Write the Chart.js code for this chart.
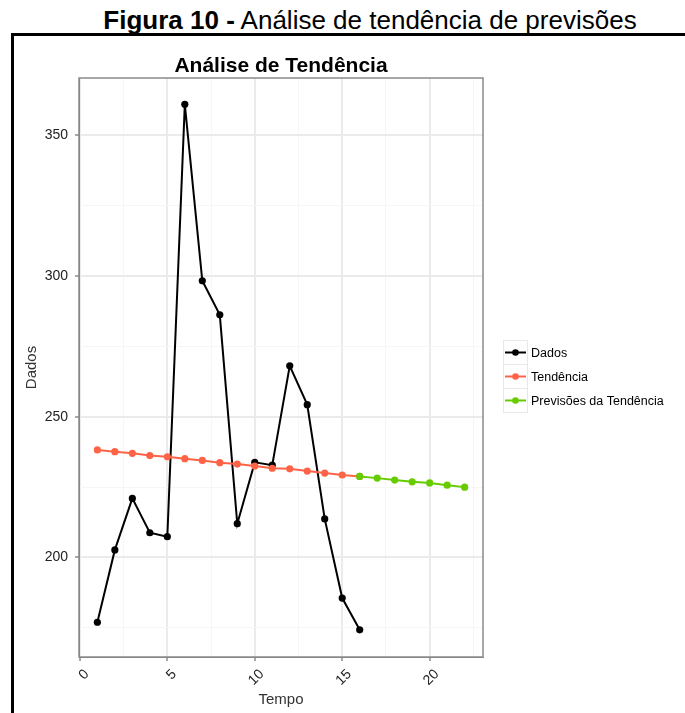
<!DOCTYPE html>
<html>
<head>
<meta charset="utf-8">
<script src="https://cdn.jsdelivr.net/npm/chart.js@4"></script>
<style>
  html, body { margin: 0; padding: 0; background: #fff; width: 685px; height: 713px; overflow: hidden; }
  #caption { position: absolute; left: 0; top: 5px; width: 740px; text-align: center;
    font-family: "Liberation Sans", Arial, sans-serif; font-size: 26px; color: #000; line-height: 30px; }
  #frame { position: absolute; left: 11px; top: 33px; width: 700px; height: 700px;
    border-top: 3px solid #000; border-left: 3px solid #000; }
  #c { position: absolute; left: 0; top: 0; }
</style>
</head>
<body>
<div id="caption"><b>Figura 10 -</b> Análise de tendência de previsões</div>
<div id="frame"></div>
<canvas id="c" width="685" height="713"></canvas>
<script>
// ---- data ----
const tempoDados = [1, 2, 3, 4, 5, 6, 7, 8, 9, 10, 11, 12, 13, 14, 15, 16];
const dados = [177.0, 202.7, 221.0, 208.8, 207.4, 361.0, 298.3, 286.2, 212.0, 233.8, 232.8, 268.1, 254.3, 213.7, 185.6, 174.3];
const tempoTendencia = [1, 2, 3, 4, 5, 6, 7, 8, 9, 10, 11, 12, 13, 14, 15, 16];
const tendencia = [238.2, 237.6, 237.0, 236.2, 235.8, 235.1, 234.5, 233.7, 233.2, 232.5, 231.7, 231.5, 230.7, 230.0, 229.3, 228.8];
const tempoPrevisoes = [16, 17, 18, 19, 20, 21, 22];
const previsoes = [228.8, 228.2, 227.5, 226.9, 226.5, 225.7, 225.0];
const xTicks = [0, 2.5, 5, 7.5, 10, 12.5, 15, 17.5, 20, 22.5];
const yTicks = [175, 200, 225, 250, 275, 300, 325, 350];
const seriesNames = ['Dados', 'Tendência', 'Previsões da Tendência'];
const seriesColors = ['#000000', '#ff6347', '#66cc00'];

const FONT = '"Liberation Sans", Arial, sans-serif';
const pts = (xs, ys) => xs.map((x, i) => ({ x: x, y: ys[i] }));

const xMin = -0.05, xMax = 23.05;
const yMin = 164.65, yMax = 370.35;

const isMajorX = v => Math.abs(v % 5) < 1e-9;
const isMajorY = v => Math.abs(v % 50) < 1e-9;

const panelBorder = {
  id: 'panelBorder',
  afterDatasetsDraw(chart) {
    const a = chart.chartArea, ctx = chart.ctx;
    ctx.save();
    ctx.strokeStyle = '#8a8a8a';
    ctx.lineWidth = 1.5;
    ctx.strokeRect(a.left, a.top, a.right - a.left, a.bottom - a.top);
    ctx.restore();
  }
};

const customLegend = {
  id: 'customLegend',
  afterDraw(chart) {
    const ctx = chart.ctx;
    const ds = chart.data.datasets;
    const x0 = 503, y0 = 340, w = 24, h = 24;
    ctx.save();
    ds.forEach((d, i) => {
      const top = y0 + i * h;
      ctx.strokeStyle = '#e8e8e8';
      ctx.lineWidth = 1;
      ctx.strokeRect(x0 + 0.5, top + 0.5, w, h);
      const cy = top + h / 2 + 0.5;
      ctx.strokeStyle = d.borderColor;
      ctx.lineWidth = 2;
      ctx.beginPath(); ctx.moveTo(x0 + 2, cy); ctx.lineTo(x0 + w - 1, cy); ctx.stroke();
      ctx.fillStyle = d.borderColor;
      ctx.beginPath(); ctx.arc(x0 + w / 2 + 0.5, cy, 3.3, 0, Math.PI * 2); ctx.fill();
      ctx.fillStyle = '#000';
      ctx.font = '12.5px ' + FONT;
      ctx.textBaseline = 'middle';
      ctx.textAlign = 'left';
      ctx.fillText(d.label, x0 + w + 4, cy + 1);
    });
    ctx.restore();
  }
};

function makeDataset(i, xs, ys, order) {
  return {
    label: seriesNames[i],
    data: pts(xs, ys),
    borderColor: seriesColors[i],
    backgroundColor: seriesColors[i],
    pointBackgroundColor: seriesColors[i],
    pointBorderColor: seriesColors[i],
    pointBorderWidth: 0,
    pointRadius: 3.6,
    borderWidth: 2,
    tension: 0,
    fill: false,
    order: order
  };
}

new Chart(document.getElementById('c'), {
  type: 'line',
  data: {
    datasets: [
      makeDataset(0, tempoDados, dados, 3),
      makeDataset(1, tempoTendencia, tendencia, 2),
      makeDataset(2, tempoPrevisoes, previsoes, 1)
    ]
  },
  options: {
    responsive: false,
    animation: false,
    devicePixelRatio: 1,
    layout: { padding: { left: 15, right: 202, top: 0, bottom: 0 } },
    plugins: {
      legend: { display: false },
      tooltip: { enabled: false },
      title: {
        display: true,
        text: 'Análise de Tendência',
        fullSize: false,
        color: '#000',
        font: { family: FONT, size: 21, weight: 'bold', lineHeight: 1.1 },
        padding: { top: 54.5, bottom: 0.4 }
      }
    },
    scales: {
      x: {
        type: 'linear',
        min: xMin, max: xMax,
        afterBuildTicks: s => { s.ticks = xTicks.map(v => ({ value: v })); },
        afterFit: s => { s.height = 56; },
        ticks: {
          autoSkip: false,
          minRotation: 45, maxRotation: 45,
          padding: 5,
          labelOffset: 7,
          color: '#222',
          font: { family: FONT, size: 14 },
          callback: v => isMajorX(v) ? String(v) : ''
        },
        grid: {
          color: c => isMajorX(c.tick.value) ? '#ebebeb' : '#f6f6f6',
          lineWidth: c => isMajorX(c.tick.value) ? 2 : 1,
          tickColor: c => isMajorX(c.tick.value) ? '#555' : 'rgba(0,0,0,0)',
          tickLength: 4,
          tickWidth: 1
        },
        border: { display: true, color: '#7f7f7f', width: 1 },
        title: {
          display: true, text: 'Tempo', color: '#333',
          font: { family: FONT, size: 15, lineHeight: 1.2 },
          padding: { top: 0, bottom: 4 }
        }
      },
      y: {
        type: 'linear',
        min: yMin, max: yMax,
        afterBuildTicks: s => { s.ticks = yTicks.map(v => ({ value: v })); },
        afterFit: s => { s.width = 64; },
        ticks: {
          autoSkip: false,
          padding: 7,
          color: '#222',
          font: { family: FONT, size: 14 },
          callback: v => isMajorY(v) ? String(v) : ''
        },
        grid: {
          color: c => isMajorY(c.tick.value) ? '#ebebeb' : '#f6f6f6',
          lineWidth: c => isMajorY(c.tick.value) ? 2 : 1,
          tickColor: c => isMajorY(c.tick.value) ? '#555' : 'rgba(0,0,0,0)',
          tickLength: 4,
          tickWidth: 1
        },
        border: { display: true, color: '#7f7f7f', width: 1 },
        title: {
          display: true, text: 'Dados', color: '#333',
          font: { family: FONT, size: 15, lineHeight: 1.2 },
          padding: { top: 8, bottom: 0 }
        }
      }
    }
  },
  plugins: [panelBorder, customLegend]
});
</script>
</body>
</html>
